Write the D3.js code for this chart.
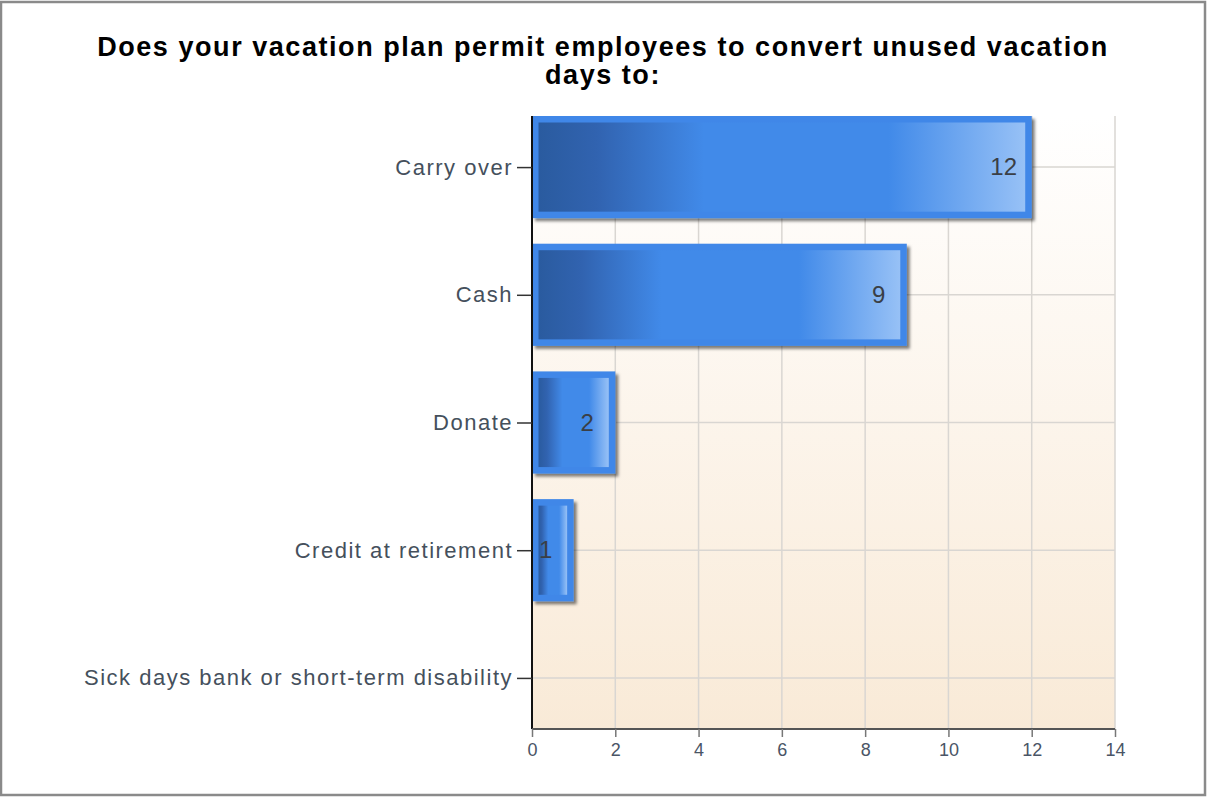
<!DOCTYPE html>
<html>
<head>
<meta charset="utf-8">
<script src="https://cdn.jsdelivr.net/npm/d3@7/dist/d3.min.js"></script>
<style>
  html, body { margin: 0; padding: 0; background: #fff; }
  svg { display: block; font-family: "Liberation Sans", Arial, sans-serif; }
</style>
</head>
<body>
<svg id="chart" width="1207" height="798"></svg>
<script>
// Survey responses: how unused vacation days may be converted
const categories = [
  "Carry over",
  "Cash",
  "Donate",
  "Credit at retirement",
  "Sick days bank or short-term disability"
];
const counts = [12, 9, 2, 1, 0];
const xTicks = [0, 2, 4, 6, 8, 10, 12, 14];
const titleLines = [
  "Does your vacation plan permit employees to convert unused vacation",
  "days to:"
];

const svg = d3.select("#chart");
const W = 1207, H = 798;
const plot = { left: 532, right: 1115, top: 116, bottom: 729 };

const defs = svg.append("defs");

// plot background: white at the top fading to a warm cream
const bg = defs.append("linearGradient").attr("id", "plotBg")
  .attr("x1", 0).attr("y1", 0).attr("x2", 0).attr("y2", 1);
bg.append("stop").attr("offset", 0).attr("stop-color", "#ffffff");
bg.append("stop").attr("offset", 1).attr("stop-color", "#f9ead7");

// horizontal sheen across each bar's face
const barGrad = defs.append("linearGradient").attr("id", "barFace")
  .attr("x1", 0).attr("y1", 0).attr("x2", 1).attr("y2", 0);
[[0, "#2a5b9f"], [0.12, "#3163b0"], [0.34, "#418ae9"], [0.72, "#418ae9"], [1, "#97c1f6"]]
  .forEach(([o, c]) => barGrad.append("stop").attr("offset", o).attr("stop-color", c));

const shadow = defs.append("filter").attr("id", "barShadow")
  .attr("x", "-10%").attr("y", "-10%").attr("width", "130%").attr("height", "130%");
shadow.append("feDropShadow").attr("dx", 3).attr("dy", 3).attr("stdDeviation", 1.8)
  .attr("flood-color", "#000").attr("flood-opacity", 0.5);

// outer frame
svg.append("rect").attr("x", 1).attr("y", 2).attr("width", W - 3).attr("height", H - 5)
  .attr("fill", "#fff").attr("stroke", "#8a8a8a").attr("stroke-width", 2.5);

// title
svg.append("g").selectAll("text").data(titleLines).join("text")
  .attr("x", 603).attr("y", (d, i) => 56 + i * 28)
  .attr("text-anchor", "middle")
  .attr("font-size", 27).attr("font-weight", "bold")
  .attr("letter-spacing", 1.55)
  .attr("fill", "#000")
  .text(d => d);

const x = d3.scaleLinear().domain([0, 14]).range([plot.left, plot.right]);
const y = d3.scalePoint().domain(categories).range([plot.top, plot.bottom]).padding(0.4);
const barH = y.step() * 0.8;

// plot area
svg.append("rect").attr("x", plot.left).attr("y", plot.top)
  .attr("width", plot.right - plot.left).attr("height", plot.bottom - plot.top)
  .attr("fill", "url(#plotBg)");

// grid
const grid = svg.append("g").attr("stroke", "#d9d6d2").attr("stroke-width", 1.5);
grid.selectAll("line.v").data(xTicks.slice(1)).join("line").attr("class", "v")
  .attr("x1", d => x(d)).attr("x2", d => x(d))
  .attr("y1", plot.top).attr("y2", plot.bottom);
grid.selectAll("line.h").data(categories).join("line").attr("class", "h")
  .attr("x1", plot.left).attr("x2", plot.right)
  .attr("y1", d => y(d)).attr("y2", d => y(d));

// bars
const rows = categories.map((c, i) => ({ cat: c, v: counts[i] })).filter(d => d.v > 0);
const bars = svg.append("g").selectAll("g").data(rows).join("g");
bars.append("rect")
  .attr("x", x(0)).attr("y", d => y(d.cat) - barH / 2)
  .attr("width", d => x(d.v) - x(0)).attr("height", barH)
  .attr("fill", "#3f87e8").attr("filter", "url(#barShadow)");
bars.append("rect")
  .attr("x", x(0) + 6.5).attr("y", d => y(d.cat) - barH / 2 + 6.5)
  .attr("width", d => x(d.v) - x(0) - 13).attr("height", barH - 13)
  .attr("fill", "url(#barFace)");
bars.append("text")
  .attr("x", d => x(d.v) - 28).attr("y", d => y(d.cat) + 8)
  .attr("text-anchor", "middle").attr("font-size", 24)
  .attr("fill", "#3a3f46")
  .text(d => d.v);

// axes
const yAxis = svg.append("g").attr("transform", `translate(${plot.left},0)`)
  .call(d3.axisLeft(y).tickSize(15).tickPadding(4));
yAxis.select(".domain").attr("stroke", "#111").attr("stroke-width", 2)
  .attr("d", `M0,${plot.top}V${plot.bottom}`);
yAxis.selectAll(".tick line").attr("stroke", "#333").attr("stroke-width", 1.5);
yAxis.selectAll(".tick text").attr("font-size", 22).attr("fill", "#45505c")
  .attr("letter-spacing", 1.5).attr("font-family", "Liberation Sans, Arial, sans-serif");

const xAxis = svg.append("g").attr("transform", `translate(0,${plot.bottom})`)
  .call(d3.axisBottom(x).tickValues(xTicks).tickSize(8).tickPadding(6));
xAxis.select(".domain").attr("stroke", "#555").attr("stroke-width", 2)
  .attr("d", `M${plot.left},0H${plot.right}`);
xAxis.selectAll(".tick line").attr("stroke", "#777").attr("stroke-width", 1.5);
xAxis.selectAll(".tick text").attr("font-size", 18).attr("fill", "#4a5566")
  .attr("font-family", "Liberation Sans, Arial, sans-serif");
</script>
</body>
</html>
